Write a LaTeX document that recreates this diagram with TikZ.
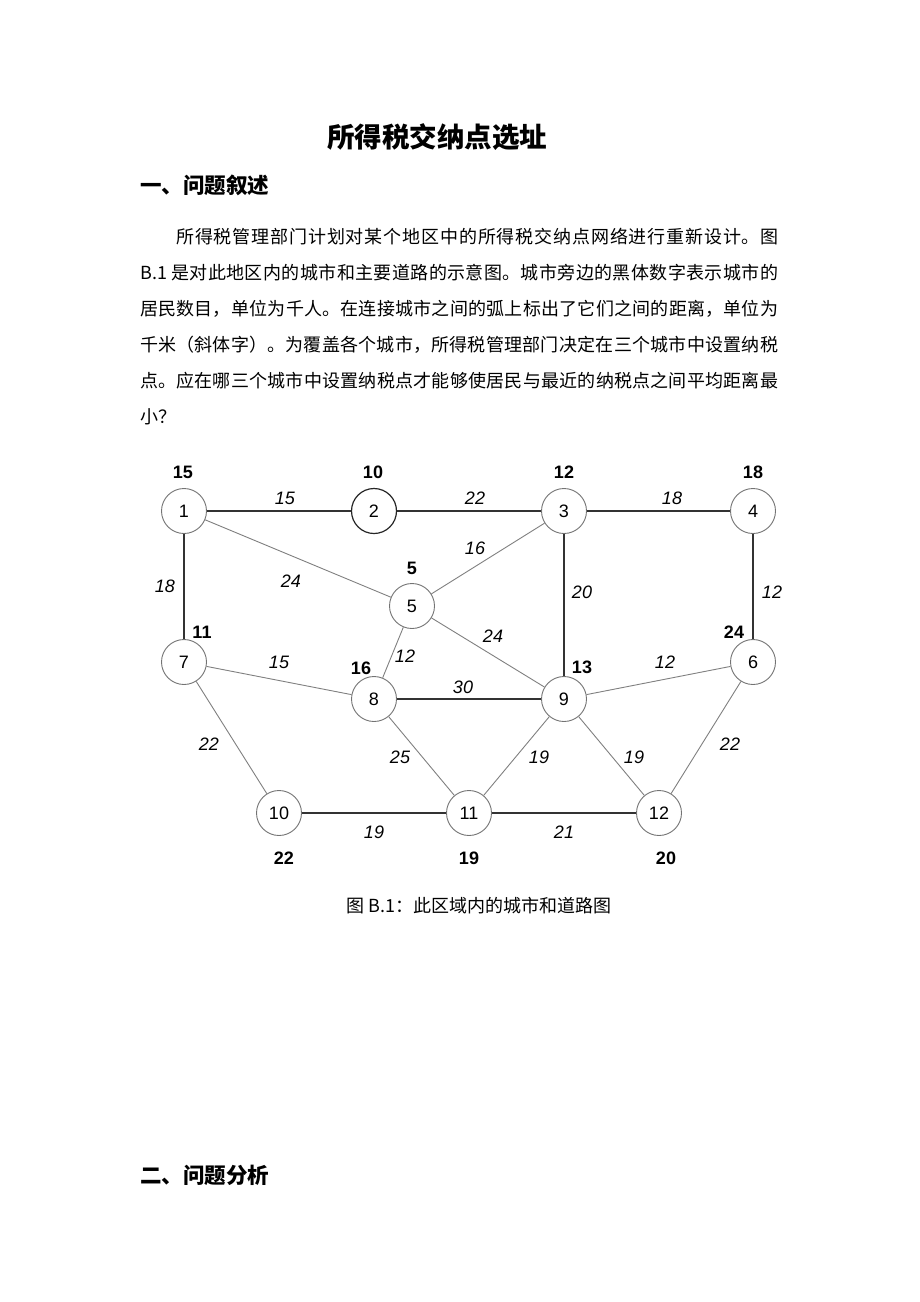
\documentclass[tikz,border=0pt]{standalone}
\usepackage{fontspec}
\setmainfont{Liberation Serif}
\newfontfamily\cjk{Noto Sans CJK SC}
\newfontfamily\gf{Liberation Sans}
\XeTeXlinebreaklocale "zh"
\XeTeXlinebreakskip=0pt plus 3pt
\newcommand{\jline}[2][0pt]{\parbox[b]{638pt}{\parindent=#1\parfillskip=0pt\tolerance=9999 #2}}
\tikzset{
  city/.style={circle, draw=black!55, line width=0.9pt, minimum size=45pt, inner sep=0pt, fill=white, font=\gf\fontsize{18}{18}\selectfont},
  pop/.style={inner sep=0pt, font=\gf\bfseries\fontsize{18}{18}\selectfont},
  dist/.style={inner sep=0pt, font=\gf\itshape\fontsize{18}{18}\selectfont},
  road/.style={draw=black!80, line width=1.1pt},
  droad/.style={draw=black!50, line width=0.9pt},
  bodyline/.style={anchor=base west, inner sep=0pt, font=\cjk\fontsize{18}{18}\selectfont},
}
\begin{document}
\begin{tikzpicture}[x=1pt,y=-1pt]
\useasboundingbox (0,0) rectangle (920,1302);
\fill[white] (0,0) rectangle (920,1302);
% title and headings
\node[anchor=base, inner sep=0pt, font=\cjk\bfseries\fontsize{27.5}{27.5}\selectfont] (title) at (437,147) {所得税交纳点选址};
\node[anchor=base west, inner sep=0pt, font=\cjk\bfseries\fontsize{21.5}{21.5}\selectfont] (h1) at (140,193) {一、问题叙述};
\node[anchor=base west, inner sep=0pt, font=\cjk\bfseries\fontsize{21.5}{21.5}\selectfont] (h2) at (140,1183) {二、问题分析};
% paragraph
\node[bodyline] (l1) at (140,243) {\jline[36pt]{所得税管理部门计划对某个地区中的所得税交纳点网络进行重新设计。图}};
\node[bodyline] (l2) at (140,279) {\jline{B.1 是对此地区内的城市和主要道路的示意图。城市旁边的黑体数字表示城市的}};
\node[bodyline] (l3) at (140,315) {\jline{居民数目，单位为千人。在连接城市之间的弧上标出了它们之间的距离，单位为}};
\node[bodyline] (l4) at (140,351) {\jline{千米（斜体字）。为覆盖各个城市，所得税管理部门决定在三个城市中设置纳税}};
\node[bodyline] (l5) at (140,387) {\jline{点。应在哪三个城市中设置纳税点才能够使居民与最近的纳税点之间平均距离最}};
\node[bodyline] (l6) at (140,423) {小？};
% caption
\node[anchor=base, inner sep=0pt, font=\cjk\fontsize{18}{18}\selectfont] (cap) at (479,912) {图 B.1：此区域内的城市和道路图};
% cities
\node[city] (n1) at (184,511) {1};
\node[city, draw=black!85, line width=1.2pt] (n2) at (374,511) {2};
\node[city] (n3) at (564,511) {3};
\node[city] (n4) at (753,511) {4};
\node[city] (n5) at (412,606) {5};
\node[city] (n6) at (753,662) {6};
\node[city] (n7) at (184,662) {7};
\node[city] (n8) at (374,699) {8};
\node[city] (n9) at (564,699) {9};
\node[city] (n10) at (279,813) {10};
\node[city] (n11) at (469,813) {11};
\node[city] (n12) at (659,813) {12};
% roads
\draw[road] (n1) -- (n2);
\draw[road] (n2) -- (n3);
\draw[road] (n3) -- (n4);
\draw[road] (n1) -- (n7);
\draw[road] (n3) -- (n9);
\draw[road] (n4) -- (n6);
\draw[road] (n8) -- (n9);
\draw[road] (n10) -- (n11);
\draw[road] (n11) -- (n12);
\draw[droad] (n1) -- (n5);
\draw[droad] (n5) -- (n3);
\draw[droad] (n5) -- (n9);
\draw[droad] (n5) -- (n8);
\draw[droad] (n7) -- (n8);
\draw[droad] (n9) -- (n6);
\draw[droad] (n7) -- (n10);
\draw[droad] (n8) -- (n11);
\draw[droad] (n9) -- (n11);
\draw[droad] (n9) -- (n12);
\draw[droad] (n6) -- (n12);
% populations
\node[pop] (p1) at (183,472) {15};
\node[pop] (p2) at (373,472) {10};
\node[pop] (p3) at (564,472) {12};
\node[pop] (p4) at (753,472) {18};
\node[pop] (p5) at (412,568) {5};
\node[pop] (p7) at (202,632) {11};
\node[pop] (p6) at (734,632) {24};
\node[pop] (p8) at (361,668) {16};
\node[pop] (p9) at (582,667) {13};
\node[pop] (p10) at (284,858) {22};
\node[pop] (p11) at (469,858) {19};
\node[pop] (p12) at (666,858) {20};
% distances
\node[dist] (d12) at (285,498) {15};
\node[dist] (d23) at (475,498) {22};
\node[dist] (d34) at (672,498) {18};
\node[dist] (d17) at (165,586) {18};
\node[dist] (d15) at (291,581) {24};
\node[dist] (d53) at (475,548) {16};
\node[dist] (d39) at (582,592) {20};
\node[dist] (d46) at (772,592) {12};
\node[dist] (d59) at (493,636) {24};
\node[dist] (d58) at (405,656) {12};
\node[dist] (d78) at (279,662) {15};
\node[dist] (d89) at (463,687) {30};
\node[dist] (d96) at (665,662) {12};
\node[dist] (d710) at (209,744) {22};
\node[dist] (d811) at (400,757) {25};
\node[dist] (d911) at (539,757) {19};
\node[dist] (d912) at (634,757) {19};
\node[dist] (d612) at (730,744) {22};
\node[dist] (d1011) at (374,832) {19};
\node[dist] (d1112) at (564,832) {21};
\end{tikzpicture}
\end{document}
